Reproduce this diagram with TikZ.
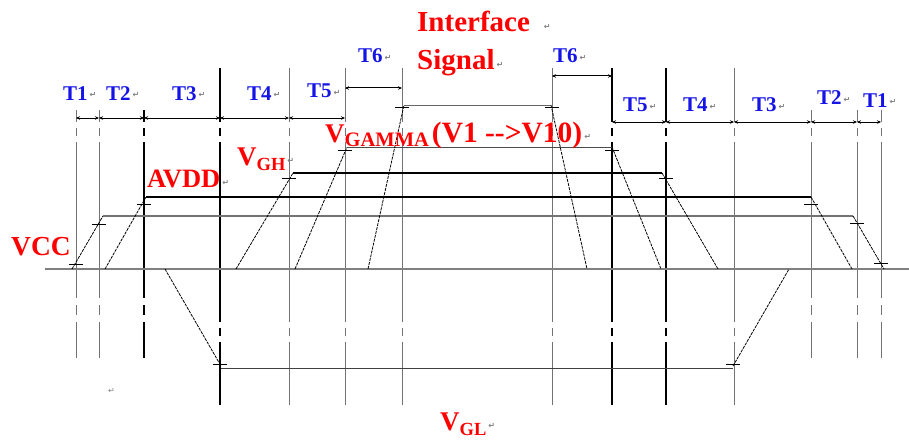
\documentclass[tikz,border=0pt]{standalone}
\usepackage{fontspec}
\setmainfont{Liberation Serif}
\newfontfamily\symfont{DejaVu Sans}
\usetikzlibrary{arrows.meta}
\definecolor{sigred}{RGB}{255,0,0}
\definecolor{tblue}{RGB}{20,20,230}
\newcommand{\retmark}{\kern2pt\raisebox{2pt}{\color{gray}\fontsize{8}{8}\symfont\char"21B5}}
\newcommand{\vsub}[2][18.5]{\raisebox{-5pt}{\fontsize{#1}{#1}\selectfont #2}}

\begin{document}
\begin{tikzpicture}[x=1pt,y=-1pt,>={Stealth[length=4pt,width=3.5pt]},
  vlong/.style={gray!90!black,line width=1pt,dash pattern=on 54pt off 6pt on 8pt off 6pt on 180pt off 6pt on 8pt off 6pt on 63pt},
  vshort/.style={gray!90!black,line width=1pt,dash pattern=on 12pt off 6pt on 8pt off 6pt on 156pt off 7pt on 10pt off 7pt on 36pt},
  heavy/.style={black,line width=1.6pt},
  level/.style={line width=1.3pt},
  ramp/.style={black,line width=0.8pt,dash pattern=on 3pt off 1pt},
  tickmark/.style={black,line width=1pt},
  dimarrow/.style={<->,black,line width=1pt},
  tlab/.style={text=tblue,font=\fontsize{21}{21}\selectfont\bfseries,inner sep=0pt,anchor=base west},
  vlab/.style={text=sigred,font=\fontsize{27}{27}\selectfont\bfseries,inner sep=0pt,anchor=base west}]
  \useasboundingbox (0,0) rectangle (909,441);
  % time marks
  \foreach \x in {76,99,811,857,881} \draw[vshort] (\x,110) -- (\x,358);
  \draw[vshort,heavy] (144,110) -- (144,358);
  \foreach \x in {289,345,402,552,734} \draw[vlong] (\x,68) -- (\x,405);
  \foreach \x in {220,612,666} \draw[vlong,heavy] (\x,68) -- (\x,405);
  % supply levels
  \draw[level,gray] (45,269) -- (909,269);
  \draw[ramp] (72,269) -- (103,216); \draw[level,gray!90!black] (103,216) -- (853,216); \draw[ramp] (853,216) -- (884,269);
  \draw[ramp] (105,269) -- (146,197); \draw[level,black] (146,197) -- (811,197); \draw[ramp] (811,197) -- (852,269);
  \draw[ramp] (236,269) -- (293,173); \draw[level,black] (293,173) -- (662,173); \draw[ramp] (662,173) -- (718,269);
  \draw[ramp] (295,269) -- (347,147); \draw[gray!60!black,line width=0.9pt] (347,147) -- (612,147); \draw[ramp] (612,147) -- (661,269);
  \draw[ramp] (368,269) -- (404,105); \draw[gray!80!black,line width=0.9pt] (404,105) -- (551,105); \draw[ramp] (551,105) -- (587,269);
  \draw[ramp] (165,269) -- (221,366); \draw[gray!50!black,line width=1pt] (221,368) -- (733,368); \draw[ramp] (733,366) -- (789,269);
  % 10% / 90% points
  \foreach \x/\y in {76/264,99/224,144/204,289/178,345/150,402/108,220/364,
    552/108,612/150,666/178,811/204,857/223,881/263,733/364}
    \draw[tickmark] (\x-7,\y) -- (\x+7,\y);
  % timing intervals
  \foreach \a/\b in {76/99,99/144,144/220,220/289,289/345} \draw[dimarrow] (\a,118) -- (\b,118);
  \foreach \a/\b in {612/666,666/734,734/811,811/857,857/881} \draw[dimarrow] (\a,122) -- (\b,122);
  \draw[dimarrow] (345,88) -- (402,88);
  \draw[dimarrow] (552,76) -- (612,76);
  % interval labels
  \node[tlab] (t1a) at (63,100) {T1\retmark};
  \node[tlab] (t2a) at (106,100) {T2\retmark};
  \node[tlab] (t3a) at (172,100) {T3\retmark};
  \node[tlab] (t4a) at (247,100) {T4\retmark};
  \node[tlab] (t5a) at (307,98) {T5\retmark};
  \node[tlab] (t6a) at (358,63) {T6\retmark};
  \node[tlab] (t6b) at (553,63) {T6\retmark};
  \node[tlab] (t5b) at (623,112) {T5\retmark};
  \node[tlab] (t4b) at (683,112) {T4\retmark};
  \node[tlab] (t3b) at (752,112) {T3\retmark};
  \node[tlab] (t2b) at (817,105) {T2\retmark};
  \node[tlab] (t1b) at (863,107) {T1\retmark};
  % level labels
  \node[vlab,font=\fontsize{29}{29}\selectfont\bfseries] (iface) at (417,32) {Interface\kern12pt\retmark};
  \node[vlab,font=\fontsize{29}{29}\selectfont\bfseries] (signal) at (417,70) {Signal\retmark};
  \node[vlab] (vgamma) at (325,142) {V\vsub[20.5]{GAMMA}\kern3pt{\fontsize{29.5}{29.5}\selectfont(V1 -{}->V10)}\retmark};
  \node[vlab] (vgh) at (237,165) {V\vsub{GH}\retmark};
  \node[vlab,font=\fontsize{26.5}{26.5}\selectfont\bfseries] (avdd) at (147,187) {AVDD\retmark};
  \node[vlab,font=\fontsize{27.5}{27.5}\selectfont\bfseries] (vcc) at (11,255) {VCC};
  \node[vlab] (vgl) at (440,430) {V\vsub{GL}\retmark};
  \node[inner sep=0pt,anchor=base west] (blank) at (106,395) {\retmark};
\end{tikzpicture}
\end{document}
